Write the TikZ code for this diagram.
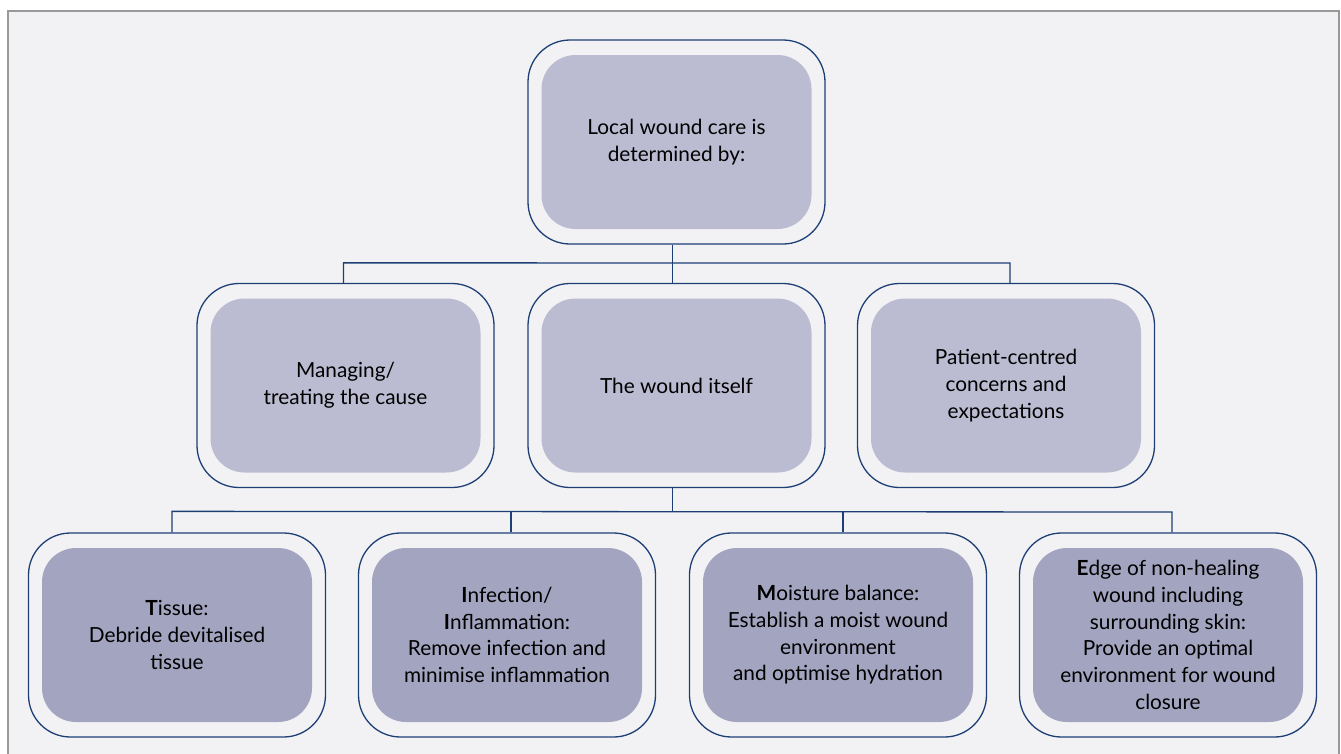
\documentclass[tikz,border=0pt]{standalone}
\usepackage{fontspec}
\setmainfont{Lato}
\definecolor{navy}{HTML}{1D3F74}
\definecolor{fillA}{HTML}{BBBCD1}
\definecolor{fillB}{HTML}{A3A4C0}
\definecolor{panel}{HTML}{F2F2F5}
\definecolor{frame}{HTML}{999999}
\begin{document}
\begin{tikzpicture}[x=1pt,y=-1pt,
  outerbox/.style={draw=navy, line width=1.3pt, rounded corners=42pt, minimum width=297pt, minimum height=204pt, inner sep=0pt},
  innerbox/.style={rounded corners=34pt, minimum width=270pt, minimum height=174pt, inner sep=0pt, align=center, text=black,
     font=\fontsize{20.8}{26.7}\selectfont},
  lightbox/.style={innerbox, fill=fillA},
  darkbox/.style={innerbox, fill=fillB},
  conn/.style={draw=navy, line width=1.3pt}
]
\useasboundingbox (0,0) rectangle (1341,753);
\fill[white] (0,0) rectangle (1341,753);
\fill[panel] (8,11) rectangle (1339,760);
\draw[frame, line width=1.2pt] (8,760) -- (8,11) -- (1339,11) -- (1339,760);

% top
\node[outerbox] (top) at (676.5,142) {};
\node[lightbox] (topi) at (top) {Local wound care is\\determined by:};

% middle row
\node[outerbox] (m1) at (345.5,385.5) {};
\node[lightbox] (m1i) at (m1) {Managing/\\treating the cause};
\node[outerbox] (m2) at (676.5,385.5) {};
\node[lightbox] (m2i) at (m2) {The wound itself};
\node[outerbox] (m3) at (1006,385.5) {};
\node[lightbox] (m3i) at (m3) {Patient-centred\\concerns and\\expectations};

% bottom row
\node[outerbox] (b1) at (177,635) {};
\node[darkbox] (b1i) at (b1) {{\bfseries T}issue:\\Debride devitalised\\tissue};
\node[outerbox] (b2) at (507,635) {};
\node[darkbox] (b2i) at (b2) {{\bfseries I}nfection/\\{\bfseries I}nflammation:\\Remove infection and\\minimise inflammation};
\node[outerbox] (b3) at (838,635) {};
\node[darkbox] (b3i) at (b3) {{\bfseries M}oisture balance:\\Establish a moist wound\\environment\\and optimise hydration};
\node[outerbox] (b4) at (1168,635) {};
\node[darkbox] (b4i) at (b4) {{\bfseries E}dge of non-healing\\wound including\\surrounding skin:\\Provide an optimal\\environment for wound\\closure};

% connectors top -> middle
\draw[conn] ([xshift=-4]top.south) -- ([xshift=-4]m2.north);
\draw[conn] ([xshift=-2]m1.north) -- ++(0,-20) -- ([xshift=4]m3.north |- 0,263) -- ([xshift=4]m3.north);

% connectors middle -> bottom
\draw[conn] ([xshift=-4]m2.south) -- ++(0,24);
\draw[conn] ([xshift=-5]b1.north) -- ++(0,-21) -- ([xshift=4]b4.north |- 0,512) -- ([xshift=4]b4.north);
\draw[conn] ([xshift=4]b2.north) -- ++(0,-21);
\draw[conn] ([xshift=5]b3.north) -- ++(0,-21);
\end{tikzpicture}
\end{document}
